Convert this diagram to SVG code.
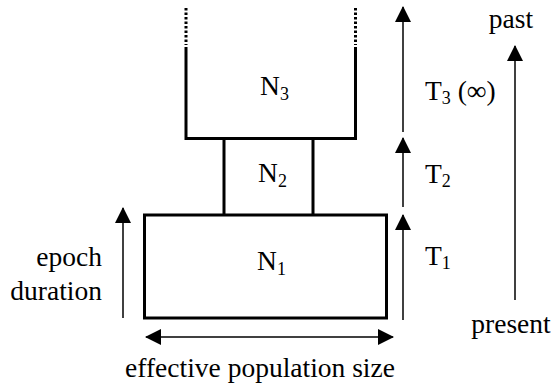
<svg xmlns="http://www.w3.org/2000/svg" width="553" height="392" viewBox="0 0 553 392">
<style>
.box{fill:none;stroke:#000;stroke-width:3}
.ar{fill:none;stroke:#000;stroke-width:1.5}
.t{font-family:'Liberation Serif','Times New Roman',serif;font-size:27.5px;fill:#000}
.sub{font-size:18px}
</style>
<defs>
<marker id="ah" viewBox="0 0 16 16" refX="15" refY="8" markerWidth="16" markerHeight="16" markerUnits="userSpaceOnUse" orient="auto-start-reverse">
<path d="M0,0 L16,8 L0,16 Z" fill="#000"/>
</marker>
</defs>
<rect width="553" height="392" fill="#fff"/>
<g id="n3">
<path class="box" d="M186,47 V138.5 H355.5 V47"/>
<path class="box" d="M186,8 V45 M355.5,8 V45" stroke-dasharray="2.5 2"/>
<text class="t" x="260" y="95">N<tspan class="sub" dy="5">3</tspan></text>
</g>
<g id="n2">
<path class="box" d="M224,138.5 V215 M313,138.5 V215"/>
<text class="t" x="258" y="182">N<tspan class="sub" dy="5">2</tspan></text>
</g>
<g id="n1">
<rect class="box" x="144.5" y="215" width="242" height="103"/>
<text class="t" x="257" y="270">N<tspan class="sub" dy="5">1</tspan></text>
</g>
<g id="connectors">
<line class="ar" x1="123" y1="318" x2="123" y2="208" marker-end="url(#ah)"/>
<line class="ar" x1="146" y1="337" x2="393" y2="337" marker-start="url(#ah)" marker-end="url(#ah)"/>
<line class="ar" x1="403" y1="320" x2="403" y2="215" marker-end="url(#ah)"/>
<line class="ar" x1="403" y1="207" x2="403" y2="138" marker-end="url(#ah)"/>
<line class="ar" x1="403" y1="132" x2="403" y2="7" marker-end="url(#ah)"/>
<line class="ar" x1="515" y1="300" x2="515" y2="46" marker-end="url(#ah)"/>
</g>
<g id="labels">
<text class="t" x="102" y="266" text-anchor="end">epoch</text>
<text class="t" x="102" y="300" text-anchor="end">duration</text>
<text class="t" x="260" y="377" text-anchor="middle">effective population size</text>
<text class="t" x="425" y="100">T<tspan class="sub" dy="4">3</tspan><tspan dy="-4"> (∞)</tspan></text>
<text class="t" x="425" y="183">T<tspan class="sub" dy="4">2</tspan></text>
<text class="t" x="425" y="265">T<tspan class="sub" dy="4">1</tspan></text>
<text class="t" x="511" y="28" text-anchor="middle">past</text>
<text class="t" x="511" y="333" text-anchor="middle">present</text>
</g>
</svg>
